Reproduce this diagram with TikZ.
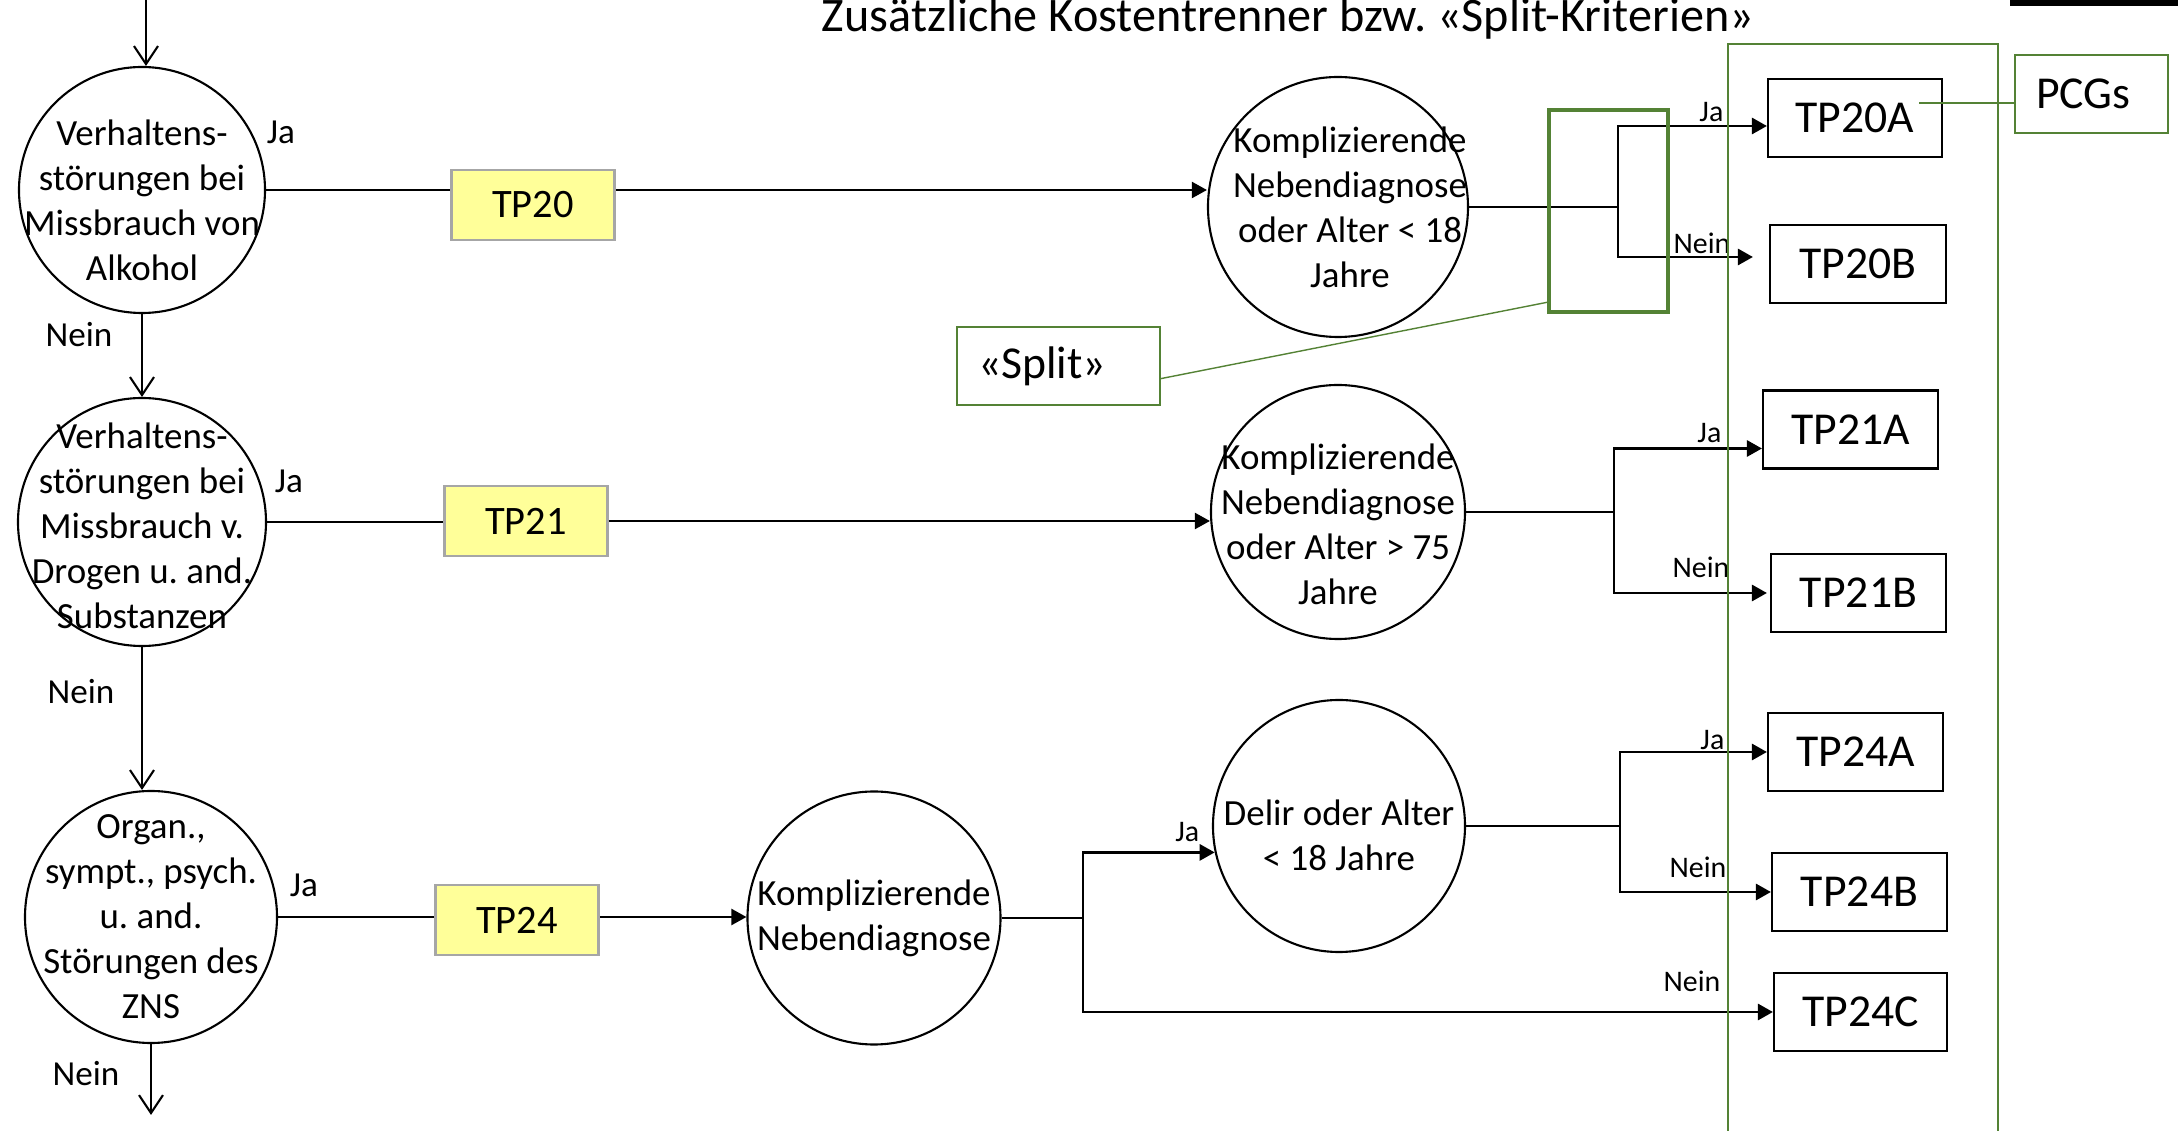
\documentclass[tikz,border=0pt]{standalone}
\usepackage{fontspec}
\setmainfont{Carlito}
\usepackage{tikz}
\usetikzlibrary{arrows.meta,positioning}
\definecolor{tpyellow}{RGB}{255,255,153}
\definecolor{tpgray}{RGB}{166,166,166}
\definecolor{splitgreen}{RGB}{84,130,53}
\frenchspacing

\begin{document}
\begin{tikzpicture}
%\draw[very thin, color = gray](0, 0) grid (22, 12);
\tikzstyle{decision} = [draw, circle, semithick, inner sep = 0pt];
\tikzstyle{dtext} = [align = center, inner sep = 0pt, font = \fontsize{10.5}{12.8}\selectfont];
\tikzstyle{tpbox} = [draw = tpgray, fill = tpyellow, thick, minimum width = 16.3mm,
  minimum height = 7mm, font = \fontsize{11.5}{14}\selectfont];
\tikzstyle{pcg} = [draw, rectangle, semithick, minimum width = 17.5mm,
  minimum height = 7.8mm, font = \fontsize{13}{16}\selectfont];
\tikzstyle{note} = [draw = splitgreen, rectangle, semithick, minimum height = 7.8mm,
  inner xsep = 2.1mm, align = left, font = \fontsize{13}{16}\selectfont];
\tikzstyle{lbl} = [font = \fontsize{10}{12}\selectfont];
\tikzstyle{slbl} = [anchor = base east, inner sep = 0pt, font = \fontsize{8.5}{10}\selectfont];
\tikzstyle{line} = [draw, semithick]
\tikzstyle{downarrow} = [draw, semithick, -{Straight Barb[length = 1.8mm, width = 2.4mm]}]
\tikzstyle{tarrow} = [draw, semithick, -{Triangle[length = 1.5mm, width = 1.6mm]}]
\tikzstyle{branch} = [draw, thick, -{Triangle[length = 1.5mm, width = 1.6mm]}]
\useasboundingbox (0, 0) rectangle (21.78, 11.31);

\node [anchor = base, font = \fontsize{13.7}{16}\selectfont] at (12.88, 10.99) (title) {Zusätzliche Kostentrenner bzw. «Split-Kriterien»};
\fill (20.10, 11.25) rectangle (21.78, 11.31);

% left column
\node [decision, minimum size = 24.6mm] at (1.42, 9.41) (c1) {};
\node [dtext] at ([yshift = -1mm]c1) (c1t) {Verhaltens-\\störungen bei\\Missbrauch von\\Alkohol};
\node [decision, minimum size = 24.8mm] at (1.42, 6.09) (c2) {};
\node [dtext] at ([yshift = -0.4mm]c2) (c2t) {Verhaltens-\\störungen bei\\Missbrauch v.\\Drogen u. and.\\Substanzen};
\node [decision, minimum size = 25.2mm] at (1.51, 2.14) (c3) {};
\node [dtext] at (c3) (c3t) {Organ.,\\sympt., psych.\\u. and.\\Störungen des\\ZNS};

\node [lbl] at (2.81, 9.99) (ja1) {Ja};
\node [lbl] at (0.79, 7.96) (nein1) {Nein};
\node [lbl] at (2.89, 6.50) (ja2) {Ja};
\node [lbl] at (0.81, 4.39) (nein2) {Nein};
\node [lbl] at (3.04, 2.46) (ja3) {Ja};
\node [lbl] at (0.86, 0.57) (nein3) {Nein};

% base groups
\node [tpbox] at (5.33, 9.26) (tp20) {TP20};
\node [tpbox] at (5.26, 6.10) (tp21) {TP21};
\node [tpbox] at (5.17, 2.11) (tp24) {TP24};

% split questions
\node [decision, minimum size = 26mm] at (13.38, 9.24) (k20) {};
\node [dtext] at ([xshift = 1.2mm]k20) (k20t) {Komplizierende\\Nebendiagnose\\oder Alter < 18\\Jahre};
\node [decision, minimum size = 25.4mm] at (13.38, 6.19) (k21) {};
\node [dtext] at ([yshift = -1.2mm]k21) (k21t) {Komplizierende\\Nebendiagnose\\oder Alter > 75\\Jahre};
\node [decision, minimum size = 25.3mm] at (8.74, 2.13) (k24) {};
\node [dtext] at (k24) (k24t) {Komplizierende\\Nebendiagnose};
\node [decision, minimum size = 25.2mm] at (13.39, 3.05) (delir) {};
\node [dtext] at ([yshift = -0.9mm]delir) (delirt) {Delir oder Alter\\< 18 Jahre};

% PCGs
\node [pcg, minimum width = 17.4mm] at (18.55, 10.13) (tp20a) {TP20A};
\node [pcg, minimum width = 17.6mm] at (18.58, 8.67) (tp20b) {TP20B};
\node [pcg] at (18.505, 7.015) (tp21a) {TP21A};
\node [pcg] at (18.585, 5.38) (tp21b) {TP21B};
\node [pcg] at (18.555, 3.79) (tp24a) {TP24A};
\node [pcg] at (18.595, 2.39) (tp24b) {TP24B};
\node [pcg, minimum width = 17.3mm] at (18.605, 1.19) (tp24c) {TP24C};

% flow down the left column
\coordinate (entry) at (1.46, 11.31);
\coordinate (leave) at (1.51, 0.16);
\path [downarrow] (entry) -- (entry |- c1.north);
\path [downarrow] (c1.south) -- (c2.north);
\path [downarrow] (c2.south) -- (c2.south |- c3.north);
\path [downarrow] (c3.south) -- (leave);

% rows
\path [line] (c1.east) -- (c1.east -| tp20.west);
\path [tarrow] (tp20.east |- c1.east) -- (k20.west |- c1.east);
\path [line] (c2.east) -- (c2.east -| tp21.west);
\path [tarrow] (tp21.east) -- (k21.west |- tp21.east);
\path [line] (c3.east) -- (c3.east -| tp24.west);
\path [tarrow] (tp24.east |- c3.east) -- (k24.west |- c3.east);

% forks
\coordinate (fork20) at (16.18, 9.27);
\coordinate (fork21) at (16.14, 6.07);
\coordinate (fork24) at (10.83, 2.04);
\coordinate (forkd) at (16.20, 3.03);
\path [branch] (k20.east) -- (k20.east -| fork20) |- ([yshift = -0.8mm]tp20a.west);
\path [branch] (k20.east -| fork20) |- ([xshift = -1.6mm, yshift = 0.7mm]tp20b.west);
\path [branch] (k21.east) -- (k21.east -| fork21) |- ([yshift = -1.9mm]tp21a.west);
\path [branch] (k21.east -| fork21) |- ([xshift = -0.3mm]tp21b.west);
\path [branch] (k24.east) -- (k24.east -| fork24) |- (delir.192);
\path [branch] (k24.east -| fork24) |- (tp24c.west);
\path [branch] (delir.east) -- (delir.east -| forkd) |- (tp24a.west);
\path [branch] (delir.east -| forkd) |- (tp24b.west);

\node [slbl] at (17.24, 10.09) (ja20) {Ja};
\node [slbl] at (17.31, 8.77) (nein20) {Nein};
\node [slbl] at (17.22, 6.88) (ja21) {Ja};
\node [slbl] at (17.30, 5.53) (nein21) {Nein};
\node [slbl] at (17.25, 3.81) (ja24a) {Ja};
\node [slbl] at (17.27, 2.53) (nein24b) {Nein};
\node [slbl] at (17.21, 1.39) (nein24c) {Nein};
\node [slbl] at (12.00, 2.89) (jad) {Ja};

% green marks
\node [draw = splitgreen, line width = 1.2pt, minimum width = 11.9mm, minimum height = 20.2mm] at (16.085, 9.20) (splitbox) {};
\node [note, text width = 16.1mm] at (10.585, 7.65) (splitlbl) {«Split»};
\node [note, text width = 11.1mm] at (20.915, 10.37) (pcgs) {PCGs};
\coordinate (pcgfoot) at (19.19, 10.28);
\draw [splitgreen, thin] (splitlbl.-7) -- (splitbox.236);
\draw [splitgreen, thin] (pcgfoot) -- (pcgfoot -| pcgs.west);
\draw [splitgreen, semithick] (17.28, -0.1) -- (17.28, 10.87) -- (19.98, 10.87) -- (19.98, -0.1);
\end{tikzpicture}
\end{document}
